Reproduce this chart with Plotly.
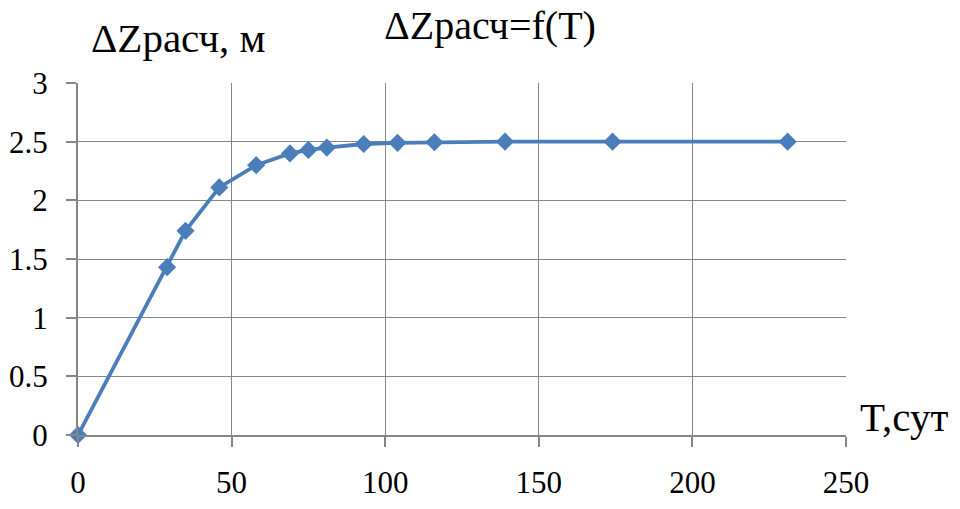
import subprocess
import plotly.graph_objects as go

# warm up the fontconfig cache so the browser resolves the serif family
for _name in ("Times New Roman", "Liberation Serif", "serif"):
    try:
        subprocess.run(["fc-match", _name], capture_output=True, text=True, timeout=20)
    except Exception:
        pass

T_days = [0, 29, 35, 46, 58, 69, 75, 81, 93, 104, 116, 139, 174, 231]
dZ_calc = [0, 1.43, 1.74, 2.11, 2.30, 2.40, 2.43, 2.45, 2.48, 2.49, 2.495, 2.50, 2.50, 2.50]

x_ticks = [0, 50, 100, 150, 200, 250]
y_ticks = [0, 0.5, 1, 1.5, 2, 2.5, 3]
y_tick_text = ["0", "0.5", "1", "1.5", "2", "2.5", "3"]

FONT = "Times New Roman, Liberation Serif, Tinos, serif"
GRID = "#868686"
BLUE = "#4A7EBB"

fig = go.Figure()
fig.add_trace(go.Scatter(
    x=T_days, y=dZ_calc, mode="lines+markers",
    line=dict(color=BLUE, width=3.8),
    marker=dict(symbol="diamond", size=14, color=BLUE),
    cliponaxis=False, showlegend=False,
))

fig.update_layout(
    width=960, height=509,
    margin=dict(l=78, r=114, t=83, b=74),
    paper_bgcolor="white", plot_bgcolor="white",
    font=dict(family=FONT, color="black", size=31),
    xaxis=dict(range=[0, 250], tickvals=x_ticks, showgrid=True, gridcolor=GRID, gridwidth=1.3,
               showline=True, linecolor=GRID, linewidth=2, ticks="outside", ticklen=10,
               tickcolor=GRID, tickwidth=1.5, zeroline=False, ticklabelstandoff=9,
               automargin=False,
               tickfont=dict(family=FONT, size=31, color="black")),
    yaxis=dict(range=[0, 3], tickvals=y_ticks, ticktext=y_tick_text, showgrid=True, gridcolor=GRID,
               gridwidth=1.3, showline=True, linecolor=GRID, linewidth=2, ticks="outside", ticklen=10,
               tickcolor=GRID, tickwidth=1.5, zeroline=False, ticklabelstandoff=12,
               automargin=False,
               tickfont=dict(family=FONT, size=31, color="black")),
    annotations=[
        dict(text="ΔZрасч=f(T)", xref="paper", yref="paper", x=0.536, y=1.162,
             xanchor="center", yanchor="middle", showarrow=False, font=dict(family=FONT, size=40)),
        dict(text="ΔZрасч, м", xref="paper", yref="paper", x=0.014, y=1.128,
             xanchor="left", yanchor="middle", showarrow=False, font=dict(family=FONT, size=41)),
        dict(text="T,сут", xref="paper", yref="paper", x=1.016, y=0.052,
             xanchor="left", yanchor="middle", showarrow=False, font=dict(family=FONT, size=41)),
        dict(text=" ", xref="paper", yref="paper", x=0.5, y=0.5,
             xanchor="center", yanchor="middle", showarrow=False,
             font=dict(family="DejaVu Sans", size=2, color="white")),
    ],
)

fig.write_html("out.html", config={"displayModeBar": False},
               post_script="document.body.style.margin='0';document.body.style.overflow='hidden';")
